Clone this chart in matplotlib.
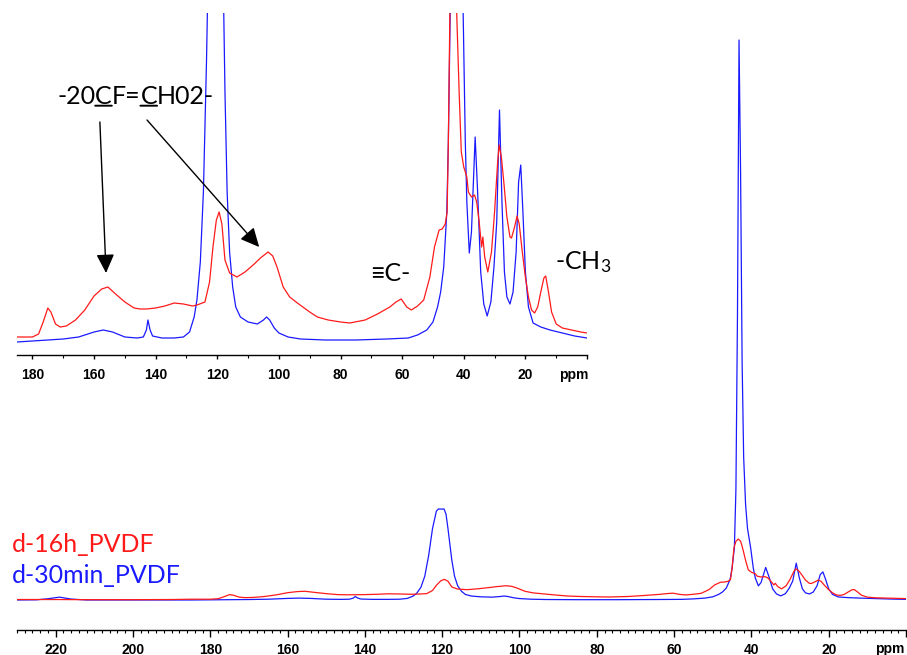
"""Two solid-state 13C NMR spectra (PVDF after 16 h and 30 min), full range plus zoomed inset -> out.png"""
import matplotlib
matplotlib.use("Agg")
import matplotlib.pyplot as plt
from matplotlib.ticker import FixedLocator, MultipleLocator

# intensities (arbitrary units, inset pixel scale)
red_ppm = [230, 225, 220, 212, 200, 190, 185, 180, 178, 176.5, 175, 174, 172.5, 171, 169, 166,
           163, 160, 157.5, 155.5, 153, 150, 147, 145, 143, 140, 137, 134, 131, 128, 126.6, 124,
           122.5, 121.4, 120.3, 119.4, 118.5, 117.5, 116, 113.6, 111, 108, 106, 103.5, 102, 100.6,
           98.6, 96.5, 94, 90, 87.5, 84, 80, 77, 72, 68, 64, 62, 60.3, 58.5, 57, 55, 53, 51,
           49.5, 48, 47, 46, 45.4, 45, 44.5, 44, 43.4, 42.8, 42.3, 41.5, 40.8, 40, 39, 38.5,
           37.5, 36.5, 35.8, 35, 34.2, 33.8, 33.2, 32.2, 31, 30, 29, 28.5, 27.8, 27, 26, 25,
           24.5, 23.5, 22.7, 22, 21, 20, 19, 18, 17, 16, 15, 14, 13.4, 12.5, 11.5, 10, 8, 5, 2, 0]
red_int = [3, 3, 3, 2, 2, 3, 5, 5, 8, 20, 34, 30, 18, 15, 16, 22,
           32, 46, 53, 55, 48, 40, 34, 33, 33, 34, 36, 39, 38, 36, 37, 40,
           60, 95, 122, 130, 118, 82, 69, 65, 70, 78, 84, 90, 86, 75,
           55, 45, 39, 30, 25, 22, 20, 19, 22, 28, 35, 40, 43, 35, 32, 36, 42, 65,
           95, 112, 113, 118, 130, 200, 330, 370, 384, 370, 330, 250, 190, 175, 165, 150,
           145, 147, 140, 120, 95, 105, 85, 70, 90, 130, 180, 197, 185, 160, 125, 105,
           104, 115, 126, 118, 90, 65, 45, 32, 29, 35, 50, 64, 66, 50, 30, 18, 14, 12, 10, 9]

blue_ppm = [230, 225, 222, 219, 216, 212, 200, 190, 185, 180, 175, 170, 165, 160, 157, 154, 150,
            146, 144, 143, 142.5, 141.8, 141, 138, 134, 131, 129, 127.5, 126.6, 125.5, 124.5,
            123.5, 122.5, 121.5, 121, 119.5, 119, 118.5, 118, 117.5, 116.8, 116, 115, 114, 112.5,
            110, 107, 105, 104, 103, 101.5, 100, 97, 93, 85, 75, 65, 58, 55, 52, 50, 48.5, 47.5,
            46.5, 45.5, 45, 44.4, 44, 43.6, 43.2, 42.8, 42.4, 42, 41.5, 41, 40.2, 39.5, 39, 38.2,
            37.5, 37, 36.3, 35.5, 34.5, 33.5, 32.4, 31.2, 30.2, 29.3, 28.4, 27.6, 26.8, 26, 25,
            24, 23, 22.2, 21.5, 20.8, 20, 19, 17.5, 15, 12, 8, 4, 0]
blue_int = [0, 1, 8, 18, 6, 0, 0, 0, 0, 1, 2, 3, 5, 10, 12, 10, 5,
            4, 5, 12, 22, 12, 6, 4, 4, 5, 10, 25, 42, 80, 150,
            280, 450, 560, 573, 573, 540, 450, 350, 250, 150, 90, 55, 35, 25,
            20, 18, 22, 25, 22, 14, 9, 5, 3, 2, 2, 3, 4, 7, 12, 20, 35, 50,
            75, 130, 200, 330, 700, 1800, 3528, 2700, 1500, 900, 600, 450, 330, 200, 140, 89,
            110, 150, 205, 150, 70, 38, 26, 40, 75, 120, 232, 140, 70, 45, 38,
            50, 90, 160, 177, 130, 70, 35, 19, 15, 12, 9, 6, 4]

main_ticks = [220, 200, 180, 160, 140, 120, 100, 80, 60, 40, 20, 0]
inset_ticks = [180, 160, 140, 120, 100, 80, 60, 40, 20, 0]

RED = "#ff1a1a"
BLUE = "#1a1aff"
W, H = 907, 655

plt.rcParams["mathtext.fontset"] = "custom"
plt.rcParams["mathtext.rm"] = "Lato"
plt.rcParams["mathtext.default"] = "regular"

fig = plt.figure(figsize=(W / 100, H / 100), dpi=100)


def style_axis(ax, ticks, minor, major_len, minor_len, pad):
    for side in ("left", "right", "top"):
        ax.spines[side].set_visible(False)
    ax.spines["bottom"].set_linewidth(1.0)
    ax.set_yticks([])
    ax.xaxis.set_major_locator(FixedLocator(ticks))
    ax.set_xticklabels([str(t) if t else "" for t in ticks])
    ax.xaxis.set_minor_locator(MultipleLocator(minor))
    ax.tick_params(axis="x", which="major", direction="out", length=major_len, width=1.0, pad=pad)
    ax.tick_params(axis="x", which="minor", direction="out", length=minor_len, width=0.8)
    for lab in ax.get_xticklabels():
        lab.set_family("Liberation Sans")
        lab.set_fontweight("bold")
        lab.set_fontsize(10)
    ax.annotate("ppm", xy=(4.3, 0), xycoords=("data", "axes fraction"),
                xytext=(0, -(major_len + pad)), textcoords="offset points",
                ha="center", va="top", family="Liberation Sans", fontweight="bold", fontsize=10)


# full spectrum
ax = fig.add_axes([17 / W, 25 / H, 889 / W, 630 / H])
ax.patch.set_visible(False)
ax.plot(blue_ppm, blue_int, color=BLUE, lw=0.9)
ax.plot(red_ppm, red_int, color=RED, lw=0.9)
ax.set_xlim(230, 0)
ax.set_ylim(-189, 3780)
style_axis(ax, main_ticks, 2, 5, 2.5, 4)

# zoomed inset
axin = fig.add_axes([17 / W, 300 / H, 570 / W, 342 / H])
axin.plot(blue_ppm, blue_int, color=BLUE, lw=0.9)
axin.plot(red_ppm, red_int, color=RED, lw=0.9)
axin.set_xlim(185, 0)
axin.set_ylim(-13, 329)
style_axis(axin, inset_ticks, 10, 3, 2, 6.4)

# labels inside the inset
txt_kw = dict(family=["Lato", "DejaVu Sans"], fontsize=18, color="black")
pieces = ["-20", "C", "F=", "C", "H02-"]
prev = axin.text(172.0, 238, pieces[0], va="baseline", ha="left", clip_on=False, **txt_kw)
for i, s in enumerate(pieces[1:], start=1):
    prev = axin.annotate(s, xy=(1, 0), xycoords=prev, va="bottom", ha="left", **txt_kw)
    if s == "C":
        axin.annotate("", xy=(0, 0.1), xycoords=prev, xytext=(1, 0.1), textcoords=prev,
                      arrowprops=dict(arrowstyle="-", lw=1.4, color="black", shrinkA=0, shrinkB=0))

arrow_kw = dict(arrowstyle="-|>,head_length=1.15,head_width=0.55", color="black", lw=1.0,
                mutation_scale=10, shrinkA=0, shrinkB=0)
axin.annotate("", xy=(156.1, 69), xytext=(158.1, 220), arrowprops=arrow_kw, annotation_clip=False)
axin.annotate("", xy=(106.4, 95), xytext=(142.8, 222), arrowprops=arrow_kw, annotation_clip=False)

axin.text(70.4, 61, "\u2261C-", va="baseline", ha="left", clip_on=False, **txt_kw)
axin.text(10.3, 73, "-CH$_3$", va="baseline", ha="left", clip_on=False, **txt_kw)

# sample names
fig.text(12 / W, 1 - 552 / H, "d-16h_PVDF", color=RED, family="Lato", fontsize=18, va="baseline")
fig.text(12 / W, 1 - 583 / H, "d-30min_PVDF", color=BLUE, family="Lato", fontsize=18, va="baseline")

fig.savefig("out.png", dpi=100)
